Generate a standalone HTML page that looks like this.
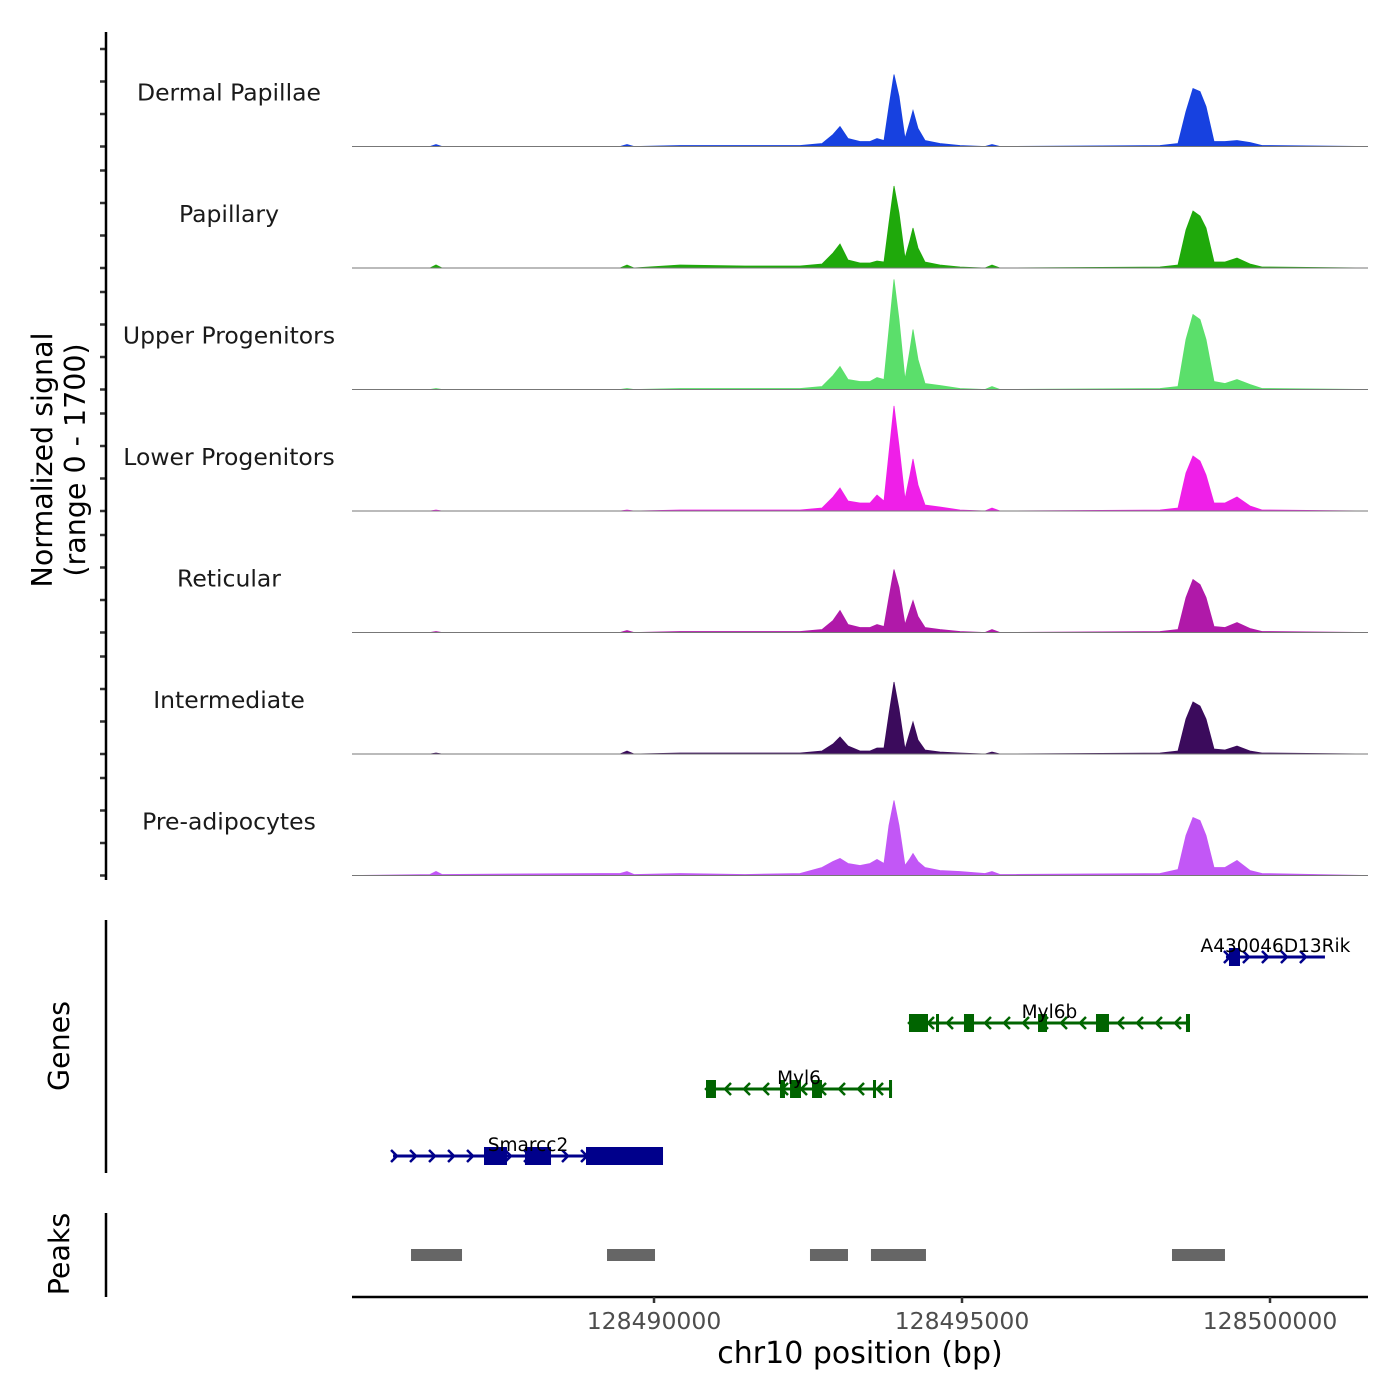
<!DOCTYPE html>
<html><head><meta charset="utf-8"><style>
html,body{margin:0;padding:0;background:#fff;}
svg{display:block;font-family:"DejaVu Sans","Liberation Sans",sans-serif;}
</style></head><body>
<svg id="chart" width="1400" height="1400" viewBox="0 0 1400 1400" xmlns="http://www.w3.org/2000/svg"></svg>
<script>
// ---- data ----
const trackNames = ["Dermal Papillae","Papillary","Upper Progenitors","Lower Progenitors","Reticular","Intermediate","Pre-adipocytes"];
const trackColors = ["#1741e0","#1fa90b","#5bdf6b","#ef1fe8","#b019a9","#3b0b5c","#c257f6"];
const positions = [128485097,128486363,128486461,128486558,128489123,128489448,128489561,128489675,128490422,128491477,128492370,128492727,128492905,128493019,128493149,128493344,128493506,128493620,128493733,128493815,128493896,128493977,128494074,128494155,128494204,128494285,128494399,128494642,128494967,128495373,128495487,128495617,128498214,128498506,128498636,128498750,128498863,128498961,128499091,128499269,128499464,128499675,128499870,128501591];
const sigDermalPapillae = [0,0,28,0,0,0,28,0,14,14,14,42,168,280,112,70,70,112,84,560,1008,700,112,350,504,252,84,42,14,0,28,0,14,42,490,812,770,560,70,70,84,56,14,0];
const sigPapillary = [0,0,42,0,0,0,42,0,42,28,28,56,210,336,112,70,70,98,84,630,1148,770,140,392,560,280,84,42,14,0,42,0,14,42,532,798,728,560,84,84,140,56,14,0];
const sigUpperProg = [0,0,14,0,0,0,14,0,14,14,14,42,196,322,140,112,112,168,140,840,1540,980,140,560,840,420,84,56,14,0,42,0,14,42,700,1050,980,700,112,84,140,70,14,0];
const sigLowerProg = [0,0,14,0,0,0,14,0,14,14,14,42,196,322,140,112,112,224,140,812,1470,910,168,504,728,364,84,56,14,0,42,0,14,42,532,770,700,504,112,112,196,70,14,0];
const sigReticular = [0,0,14,0,0,0,28,0,14,14,14,42,168,308,112,70,70,112,84,490,882,630,112,322,448,224,70,42,14,0,42,0,14,42,490,742,672,490,84,70,140,56,14,0];
const sigIntermediate = [0,0,14,0,0,0,42,0,14,14,14,42,140,238,112,42,42,84,84,560,1008,630,70,308,448,196,56,28,14,0,28,0,14,42,490,728,672,490,70,56,112,42,14,0];
const sigPreadipocytes = [0,14,56,14,28,28,56,14,28,14,28,112,196,238,168,140,168,224,168,700,1050,700,140,238,308,196,112,70,56,28,56,14,28,84,560,812,770,560,112,112,210,70,28,0];
const signals = [sigDermalPapillae,sigPapillary,sigUpperProg,sigLowerProg,sigReticular,sigIntermediate,sigPreadipocytes];
const xTicks = [128490000,128495000,128500000];
const geneNames = ["Smarcc2","Myl6","Myl6b","A430046D13Rik"];
const geneStrands = ["+","-","-","+"];
const geneStarts = [128485763,128490844,128494139,128499285];
const geneEnds = [128490146,128493864,128498701,128500892];
const geneExons = [
  [[128487240,128487613],[128487905,128488328],[128488896,128490146]],
  [[128490844,128491006],[128492045,128492126],[128492208,128492386],[128492565,128492727],[128493555,128493604],[128493815,128493864]],
  [[128494139,128494448],[128494578,128494626],[128495032,128495195],[128496234,128496380],[128497175,128497386],[128498636,128498701]],
  [[128499334,128499513]]
];
const peakStarts = [128486055,128489237,128492532,128493522,128498409];
const peakEnds = [128486883,128490016,128493149,128494415,128499269];

// ---- layout ----
const NS="http://www.w3.org/2000/svg";
const svg=document.getElementById('chart');
function el(tag,attrs,parent){const e=document.createElementNS(NS,tag);for(const k in attrs)e.setAttribute(k,attrs[k]);(parent||svg).appendChild(e);return e;}
const X0=352,X1=1368,BP0=128485097,BP1=128501591;
const xScale=bp=>X0+(bp-BP0)/(BP1-BP0)*(X1-X0);
const trackTop=25, trackH=121.5, YMAX=1700;
const yScale=(i,v)=>trackTop+(i+1)*trackH - v/YMAX*trackH;

trackNames.forEach((name,i)=>{
  const g=el('g',{});
  
  
  const base=yScale(i,0);
  let d='M'+xScale(positions[0])+','+base;
  positions.forEach((p,j)=>{d+=' L'+xScale(p).toFixed(1)+','+yScale(i,signals[i][j]).toFixed(1);});
  d+=' L'+xScale(positions[positions.length-1])+','+base+' Z';
  const a=el('path',{d:d,fill:trackColors[i],stroke:trackColors[i],'stroke-width':0.8},g);
  
  
  const bl=el('line',{x1:X0,x2:X1,y1:base,y2:base,stroke:'#777','stroke-width':1},g);
  
  
  const t=el('text',{x:229,y:base-46,'text-anchor':'middle','font-size':23.5,fill:'#1a1a1a'},g);
  t.textContent=name;
  
  
  for(let k=0;k<4;k++){
    const ty=base-k*32.5;
    const tk=el('line',{x1:100,x2:106,y1:ty,y2:ty,stroke:'#333','stroke-width':2.5},g);
    
    
  }
});
[[32,880],[920,1173],[1213,1297]].forEach(s=>{
  const l=el('line',{x1:106,x2:106,y1:s[0],y2:s[1],stroke:'#000','stroke-width':2.5});
  
  
});
const yt=el('text',{transform:'translate(52,460) rotate(-90)','text-anchor':'middle','font-size':28.5,fill:'#000'});


yt.innerHTML='<tspan x="0" dy="0">Normalized signal</tspan><tspan x="0" dy="33">(range 0 - 1700)</tspan>';
const gt=el('text',{transform:'translate(69,1046) rotate(-90)','text-anchor':'middle','font-size':28.5,fill:'#000'});
gt.textContent='Genes';


const pt=el('text',{transform:'translate(69,1254) rotate(-90)','text-anchor':'middle','font-size':28.5,fill:'#000'});
pt.textContent='Peaks';



const geneRowY=[1156,1089,1023,957];
const geneColor={'+':'#00008b','-':'#006400'};
geneNames.forEach((name,i)=>{
  const g=el('g',{});
  
  
  const y=geneRowY[i], c=geneColor[geneStrands[i]];
  const xs=xScale(geneStarts[i]), xe=xScale(geneEnds[i]);
  el('line',{x1:xs,x2:xe,y1:y,y2:y,stroke:c,'stroke-width':3},g);
  const step=19, dir=geneStrands[i]==='+'?1:-1;
  for(let x=xs+2;x<xe-2;x+=step){
    el('polyline',{points:`${x-4*dir},${y-6} ${x+2*dir},${y} ${x-4*dir},${y+6}`,fill:'none',stroke:c,'stroke-width':2.5},g);
  }
  geneExons[i].forEach(ex=>{
    const r=el('rect',{x:xScale(ex[0]),y:y-9,width:Math.max(3,xScale(ex[1])-xScale(ex[0])),height:18,fill:c},g);
    
    
  });
  const t=el('text',{x:(xs+xe)/2,y:y-5,'text-anchor':'middle','font-size':18.5,fill:'#000'},g);
  t.textContent=name;
  
  
});
peakStarts.forEach((s,i)=>{
  const r=el('rect',{x:xScale(s),y:1249,width:xScale(peakEnds[i])-xScale(s),height:12,fill:'#666'});
  
  
});
const ax=el('line',{x1:X0,x2:X1,y1:1297,y2:1297,stroke:'#000','stroke-width':2.5});


xTicks.forEach(v=>{
  const x=xScale(v);
  const tk=el('line',{x1:x,x2:x,y1:1297,y2:1303,stroke:'#333','stroke-width':2.5});
  
  
  const t=el('text',{x:x,y:1329,'text-anchor':'middle','font-size':23.5,fill:'#4d4d4d'});
  t.textContent=v;
  
  
});
const xt=el('text',{x:860,y:1363,'text-anchor':'middle','font-size':30,fill:'#000'});
xt.textContent='chr10 position (bp)';


</script>
</body></html>
